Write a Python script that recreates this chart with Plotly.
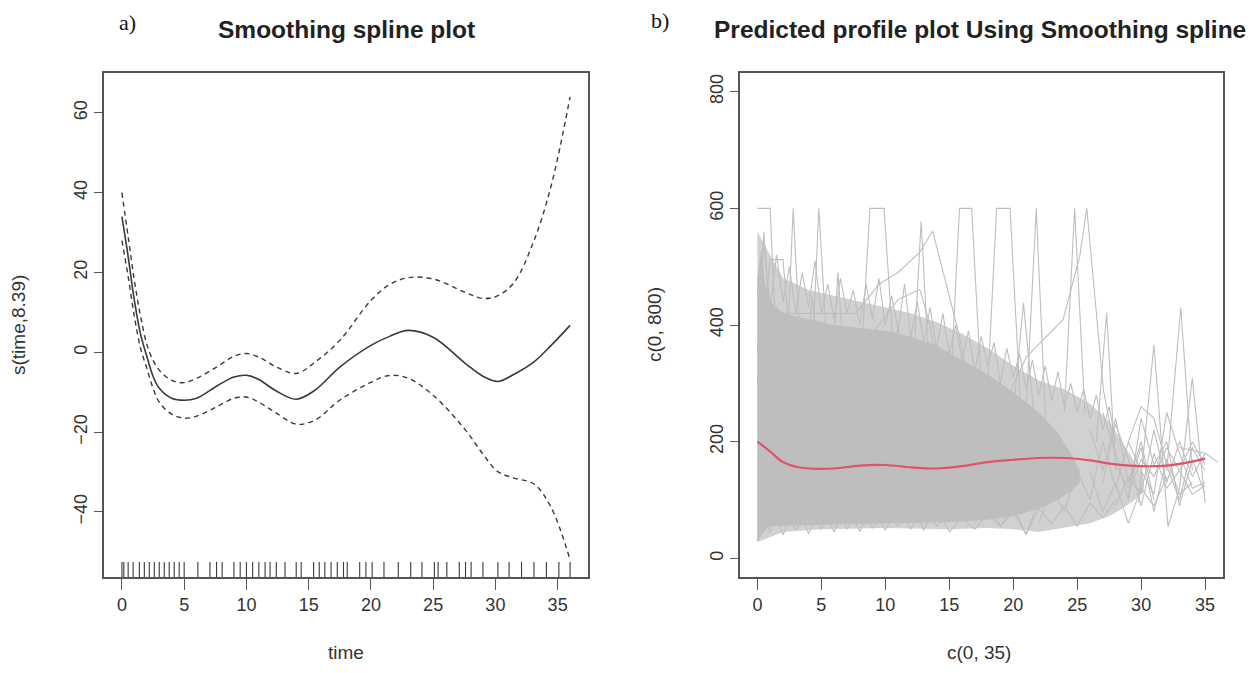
import plotly.graph_objects as go

# ---------------- Panel a) smoothing spline ----------------
t_fit = [0, 0.5, 1, 1.5, 2, 2.5, 3, 4, 5, 6, 7.7, 9, 10, 11, 12.3, 14, 15.5, 17.5,
         20, 21.5, 23, 25, 27.6, 29, 30.2, 31.5, 33.1, 34.5, 36]
s_fit = [34, 24, 13, 4.5, -1, -6, -9, -11.5, -12, -11.5, -8.3, -6.2, -5.75, -6.8, -9.5,
         -11.75, -9.5, -3.7, 1.75, 4, 5.5, 3.8, -2.8, -6, -7.3, -5.5, -2.4, 1.8, 6.75]
s_upper = [40, 29, 18, 9, 2, -2, -4.5, -7, -7.6, -6.5, -3.5, -1, -0.3, -1.2, -3.5,
           -5.3, -2.5, 3, 13, 17, 18.7, 18.4, 15, 13.5, 14.2, 17.5, 28, 42, 64]
s_lower = [28, 19, 9, 1, -4, -9, -12.5, -15.5, -16.5, -16, -13.5, -11.5, -11.2, -12.5, -15,
           -18, -17, -12, -7.5, -5.8, -6.5, -10.75, -19.5, -25.5, -29.9, -31.5, -33, -39, -52]
rug_times = [0, 0.15, 0.5, 0.9, 1.4, 1.8, 2.2, 2.6, 3.0, 3.4, 3.8, 4.2, 4.6, 5.0, 6.1, 7.07,
             7.6, 8.05, 9.0, 9.5, 10.0, 10.5, 11.0, 11.5, 11.9, 12.4, 13.1, 14.0, 14.4, 15.4,
             15.85, 16.3, 16.8, 17.3, 17.8, 18.1, 19.1, 19.6, 20.1, 21.05, 22.2, 23.2, 24.1,
             25.1, 25.4, 26.1, 27.1, 27.6, 28.05, 29.0, 30.2, 31.1, 32.1, 33.1, 34.1, 35.1, 36]
a_xticks = [0, 5, 10, 15, 20, 25, 30, 35]
a_yticks = [-40, -20, 0, 20, 40, 60]

# ---------------- Panel b) profiles ----------------
mean_t = [0, 1, 2, 3, 4, 6, 8, 10, 12, 14, 16, 18, 20, 22, 24, 26, 28, 30, 32, 34, 35]
mean_v = [200, 183, 165, 157, 154, 154, 159, 160, 156, 154, 158, 165, 169, 172, 172, 168,
          161, 158, 159, 166, 171]

# dense core of overlapping profiles (upper envelope, then lower envelope)
core_up_t = [0, 0.3, 0.6, 1, 2, 4, 6, 8, 10, 12, 14, 16, 18, 20, 22, 23.5, 24.5, 25.2]
core_up_v = [480, 530, 470, 440, 420, 410, 400, 395, 390, 380, 365, 340, 315, 285, 250, 215, 180, 150]
core_lo_t = [25.2, 24.5, 23.5, 22, 20, 18, 15, 10, 5, 2, 1, 0.5, 0]
core_lo_v = [130, 115, 100, 85, 72, 66, 62, 60, 58, 56, 55, 45, 30]

# lighter mesh region
mesh_up_t = [0, 1, 2, 4, 6, 8, 10, 12, 14, 16, 18, 20, 22, 24, 26, 27.5, 28.5, 29.5, 30.2]
mesh_up_v = [560, 520, 480, 460, 450, 440, 430, 420, 405, 385, 360, 330, 305, 290, 265, 235, 200, 165, 140]
mesh_lo_t = [30.2, 29.5, 28.5, 27.5, 26, 24, 22, 20, 18, 15, 10, 5, 2, 0]
mesh_lo_v = [115, 100, 85, 72, 60, 52, 45, 50, 52, 50, 52, 50, 45, 28]

# individual visible profiles
profiles = [
    ([0, 1, 1.5, 2], [600, 600, 350, 200]),
    ([0, 1, 2, 3], [300, 512, 512, 250]),
    ([2, 2.8, 3.6, 4], [200, 600, 250, 180]),
    ([4, 4.8, 5.6, 6], [200, 600, 300, 200]),
    ([0.5, 1.2, 7.7, 9.5, 11, 12.7, 13.7, 15.8, 17], [300, 420, 420, 470, 490, 525, 561, 381, 250]),
    ([8, 8.8, 9.9, 10.8, 11.5], [300, 600, 600, 300, 200]),
    ([12, 12.8, 13.6], [250, 578, 250]),
    ([8.5, 9.2, 11, 12.7, 13.5, 14.5], [300, 392, 444, 461, 400, 250]),
    ([15, 15.8, 16.75, 17.6], [250, 600, 600, 250]),
    ([17.9, 18.7, 19.75, 20.6], [250, 600, 600, 250]),
    ([21, 21.8, 22.6], [250, 600, 200]),
    ([24, 24.8, 25.6], [250, 600, 250]),
    ([19, 21.05, 23.9, 25.2, 25.75, 27.05, 28], [250, 346, 409, 518, 600, 289, 180]),
    ([20, 20.8, 21.6], [250, 438, 250]),
    ([26.5, 27.3, 28], [200, 421, 150]),
    ([29.8, 31, 32.1, 33], [95, 366, 54, 120]),
    ([32, 33.1, 34], [150, 430, 150]),
    ([33, 34, 35], [120, 309, 95]),
    ([33, 35, 36], [190, 180, 165]),
    ([28, 29, 30, 31, 32, 33, 34, 35], [120, 200, 150, 110, 250, 180, 120, 130]),
    ([27, 28, 29, 30, 31, 32, 33, 34, 35], [250, 180, 100, 240, 160, 200, 90, 170, 110]),
    ([28, 29, 30, 31, 32, 33, 34, 35], [90, 140, 110, 220, 130, 200, 140, 180]),
    ([29, 30, 31, 32, 33, 34, 35], [200, 260, 240, 160, 100, 190, 150]),
    ([26, 27, 28, 29, 30, 31, 32], [150, 80, 130, 60, 120, 90, 140]),
    ([27, 28, 29, 30, 31, 32, 33, 34, 35], [130, 230, 170, 90, 180, 120, 150, 200, 160]),
    ([28, 29, 30, 31, 32, 33, 34], [160, 120, 190, 80, 170, 110, 130]),
    ([26, 27, 28, 29, 30, 31], [220, 150, 240, 130, 200, 100]),
    ([29, 30, 31, 32, 33, 34, 35], [110, 170, 140, 190, 150, 110, 125]),
    ([0, 0.5, 1], [350, 560, 400]),
    ([5.5, 6.3, 7], [200, 490, 250]),
    ([3.5, 4.3, 5], [250, 450, 250]),
    ([10, 11, 11.5], [250, 400, 300]),
    ([22, 23, 24, 25, 26, 27, 28], [60, 120, 80, 150, 100, 200, 120]),
    ([17, 18, 19, 20, 21, 22], [60, 110, 55, 90, 40, 100]),
    # ragged top edge of the dense mass
    ([0, 0.5, 1, 1.5, 2, 2.5, 3, 3.5, 4, 4.5, 5, 5.5, 6, 6.5, 7, 7.5, 8],
     [450, 540, 430, 520, 440, 500, 420, 490, 430, 510, 420, 470, 410, 480, 420, 460, 400]),
    ([8, 8.5, 9, 9.5, 10, 10.5, 11, 11.5, 12, 12.5, 13, 13.5, 14, 14.5, 15, 15.5, 16],
     [400, 470, 410, 480, 400, 450, 390, 470, 380, 440, 370, 430, 360, 420, 350, 400, 340]),
    ([16, 16.5, 17, 17.5, 18, 18.5, 19, 19.5, 20, 20.5, 21, 21.5, 22, 22.5, 23, 23.5, 24,
      24.5, 25, 25.5, 26, 26.5, 27, 27.5, 28],
     [340, 390, 320, 380, 330, 370, 300, 360, 310, 350, 290, 340, 280, 330, 270, 320, 260,
      300, 250, 290, 240, 280, 220, 260, 200]),
    # ragged bottom edge
    ([0, 0.5, 1, 1.5, 2, 2.5, 3, 3.5, 4, 4.5, 5, 5.5, 6, 6.5, 7, 7.5, 8, 8.5, 9, 9.5, 10,
      10.5, 11, 11.5, 12, 12.5, 13, 13.5, 14, 14.5, 15],
     [30, 70, 45, 72, 40, 68, 48, 70, 42, 66, 50, 70, 45, 72, 50, 68, 46, 70, 52, 66, 48,
      70, 55, 68, 50, 72, 48, 70, 55, 66, 45]),
    ([15, 16, 17, 18, 19, 20, 21, 22, 23, 24, 25, 26, 27, 28],
     [45, 70, 50, 75, 55, 80, 42, 85, 60, 90, 55, 95, 70, 100]),
]
b_xticks = [0, 5, 10, 15, 20, 25, 30, 35]
b_yticks = [0, 200, 400, 600, 800]

# page has an 8px body margin: figure covers target pixels 8..1250 x 8..665
OFF = 8
W, H = 1242, 657
GRAY = "#bebebe"
INK = "#3a3a3a"
FONT = "Liberation Sans, Arial, sans-serif"

def fx(x):
    return (x - OFF) / W

def fy(y):
    return 1 - (y - OFF) / H

fig = go.Figure()

# panel a traces
fig.add_trace(go.Scatter(x=t_fit, y=s_upper, mode="lines", line=dict(color=INK, width=1.4, dash="5px,4px", shape="spline"),
                         xaxis="x", yaxis="y", hoverinfo="skip"))
fig.add_trace(go.Scatter(x=t_fit, y=s_lower, mode="lines", line=dict(color=INK, width=1.4, dash="5px,4px", shape="spline"),
                         xaxis="x", yaxis="y", hoverinfo="skip"))
fig.add_trace(go.Scatter(x=t_fit, y=s_fit, mode="lines", line=dict(color=INK, width=1.6, shape="spline"),
                         xaxis="x", yaxis="y", hoverinfo="skip"))

a_yrange = [-56.3, 70.0]
rug_top = a_yrange[0] + 0.03 * (a_yrange[1] - a_yrange[0])
rx, ry = [], []
for t in rug_times:
    rx += [t, t, None]
    ry += [a_yrange[0], rug_top, None]
fig.add_trace(go.Scatter(x=rx, y=ry, mode="lines", line=dict(color=INK, width=1.1),
                         xaxis="x", yaxis="y", hoverinfo="skip"))

# panel b traces
fig.add_trace(go.Scatter(x=mesh_up_t + mesh_lo_t, y=mesh_up_v + mesh_lo_v, fill="toself",
                         fillcolor="rgba(190,190,190,0.7)", line=dict(width=0), mode="lines",
                         xaxis="x2", yaxis="y2", hoverinfo="skip"))
fig.add_trace(go.Scatter(x=core_up_t + core_lo_t, y=core_up_v + core_lo_v, fill="toself",
                         fillcolor=GRAY, line=dict(width=0), mode="lines",
                         xaxis="x2", yaxis="y2", hoverinfo="skip"))
for px, pv in profiles:
    fig.add_trace(go.Scatter(x=px, y=pv, mode="lines", line=dict(color=GRAY, width=1.1),
                             xaxis="x2", yaxis="y2", hoverinfo="skip"))
fig.add_trace(go.Scatter(x=mean_t, y=mean_v, mode="lines", line=dict(color="#DF536B", width=2.2, shape="spline"),
                         xaxis="x2", yaxis="y2", hoverinfo="skip"))

ax_common = dict(showline=True, mirror=True, linecolor="#555555", linewidth=1.5, ticks="outside",
                 tickcolor="#555555", tickwidth=1.3, showgrid=False, zeroline=False,
                 tickfont=dict(family=FONT, size=18, color="#333333"))

ydom = [fy(577), fy(73)]
fig.update_layout(
    width=W, height=H, margin=dict(l=0, r=0, t=0, b=0),
    paper_bgcolor="white", plot_bgcolor="white", showlegend=False,
    xaxis=dict(domain=[fx(104), fx(588)], range=[-1.44, 37.44], tickvals=a_xticks, ticklen=11,
               anchor="y", **ax_common),
    yaxis=dict(domain=ydom, range=a_yrange, tickvals=a_yticks, ticklen=8,
               tickangle=-90, anchor="x", **ax_common),
    xaxis2=dict(domain=[fx(739.5), fx(1223)], range=[-1.4, 36.4], tickvals=b_xticks, ticklen=11,
                anchor="y2", **ax_common),
    yaxis2=dict(domain=ydom, range=[-32, 832], tickvals=b_yticks, ticklen=8,
                tickangle=-90, anchor="x2", **ax_common),
)

def ann(text, x, y, size, bold=False, angle=0, family=FONT, color="#222222"):
    fig.add_annotation(text=("<b>%s</b>" % text) if bold else text, x=fx(x), y=fy(y),
                       xref="paper", yref="paper", showarrow=False, textangle=angle,
                       xanchor="center", yanchor="middle",
                       font=dict(family=family, size=size, color=color))

ann("Smoothing spline plot", 346, 29, 24.5, bold=True)
ann("Predicted profile plot Using Smoothing spline", 980, 29, 24.5, bold=True)
ann("a)", 127, 22, 22, family="Liberation Serif, Times New Roman, serif", color="#111111")
ann("b)", 660, 20, 22, family="Liberation Serif, Times New Roman, serif", color="#111111")
ann("time", 346, 652, 19, color="#333333")
ann("c(0, 35)", 979, 652, 19, color="#333333")
ann("s(time,8.39)", 18, 325, 19, angle=-90, color="#333333")
ann("c(0, 800)", 654, 325, 19, angle=-90, color="#333333")

fig.write_html("out.html")
